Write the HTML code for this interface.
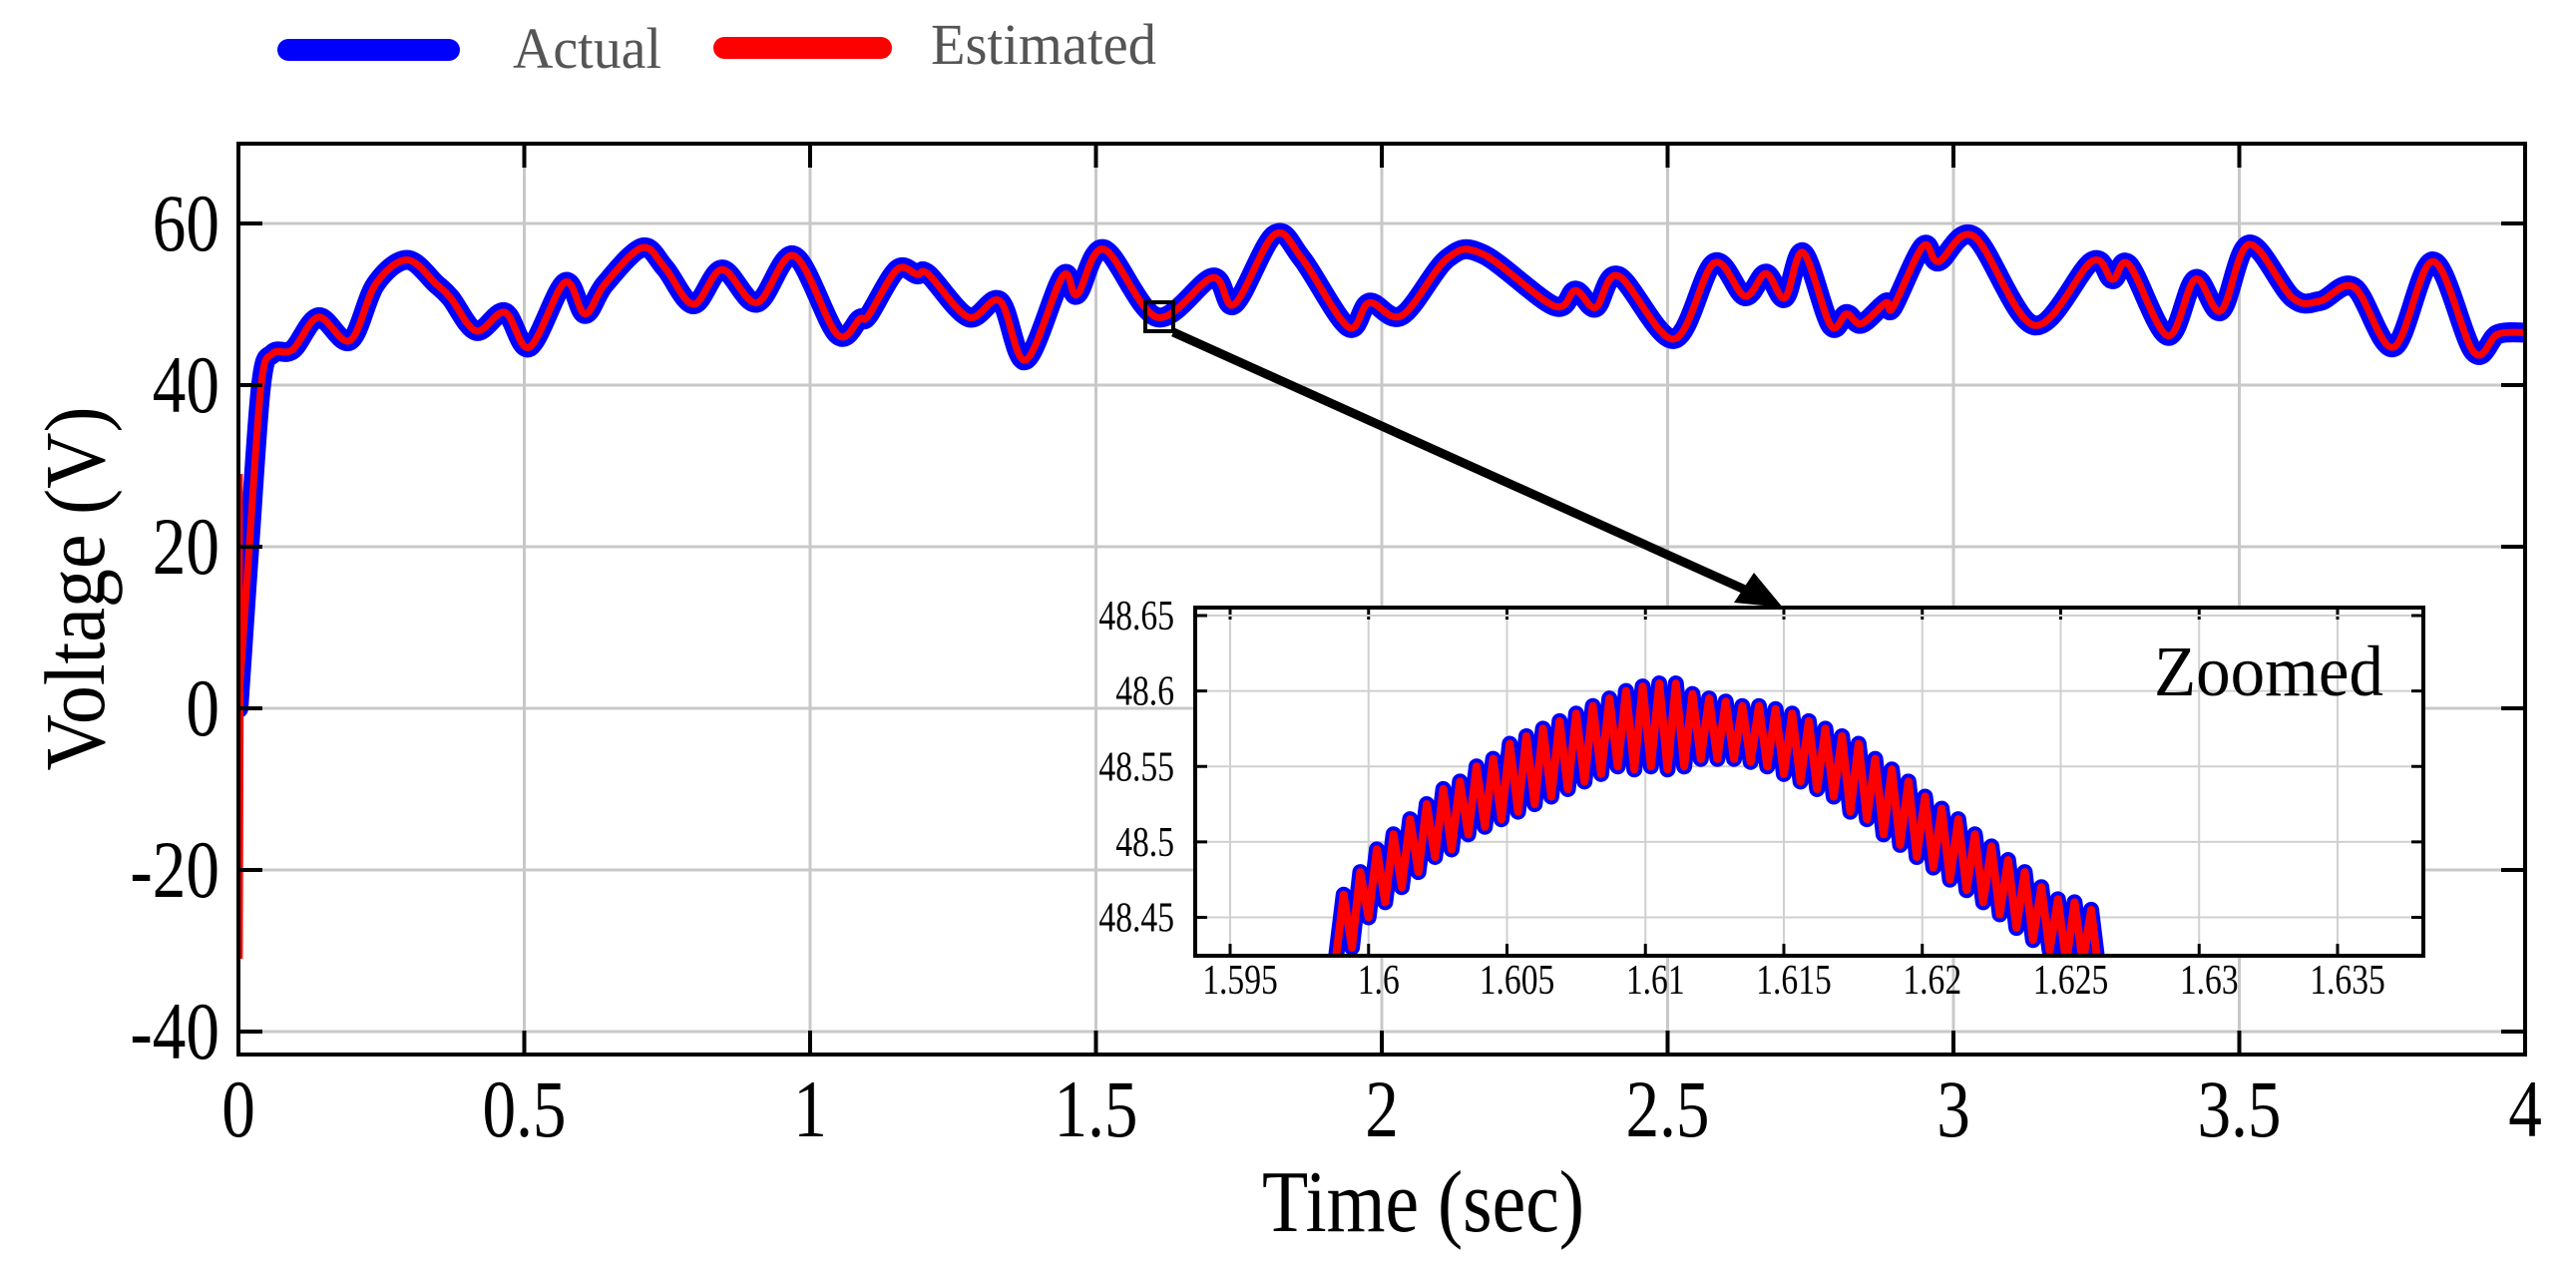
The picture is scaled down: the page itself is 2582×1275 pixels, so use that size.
<!DOCTYPE html>
<html><head><meta charset="utf-8"><style>
html,body{margin:0;padding:0;background:#fff;}
svg{display:block;font-family:"Liberation Serif",serif;}
</style></head><body>
<svg id="chart" width="2582" height="1275" viewBox="0 0 2582 1275" xmlns="http://www.w3.org/2000/svg">
<defs>
<clipPath id="mainClip"><rect x="239" y="144" width="2292" height="913"/></clipPath>
<clipPath id="insetClip"><rect x="1198" y="609" width="1231" height="349"/></clipPath>
</defs>
<g>
<line x1="289" y1="50" x2="450" y2="50" stroke="#0000ff" stroke-width="22" stroke-linecap="round"/>
<text x="514" y="68" font-size="58" fill="#555" textLength="149" lengthAdjust="spacingAndGlyphs">Actual</text>
<line x1="726" y1="48" x2="883" y2="48" stroke="#ff0000" stroke-width="22" stroke-linecap="round"/>
<text x="933" y="64" font-size="58" fill="#555" textLength="226" lengthAdjust="spacingAndGlyphs">Estimated</text>
</g>
<g id="mainGrid"></g>
<g id="mainSeries" clip-path="url(#mainClip)"></g>
<g id="mainAxes"></g>
<text transform="translate(104,590) rotate(-90)" text-anchor="middle" font-size="86" textLength="365" lengthAdjust="spacingAndGlyphs">Voltage (V)</text>
<text x="1265" y="1234" font-size="88" textLength="323" lengthAdjust="spacingAndGlyphs">Time (sec)</text>
<rect x="1148" y="303" width="28" height="29" fill="none" stroke="#000" stroke-width="4"/>
<line x1="1176" y1="333" x2="1760" y2="596" stroke="#000" stroke-width="9"/>
<polygon points="1787,609 1738,604 1758,574" fill="#000"/>
<g id="inset"></g>
</svg>
<script>
// ---- main chart data ----
const actualT = [0,0.019,0.04,0.06,0.095,0.14,0.195,0.24,0.295,0.346,0.371,0.416,0.466,0.509,0.571,0.606,0.641,0.706,0.746,0.796,0.846,0.907,0.972,1.047,1.087,1.102,1.152,1.187,1.207,1.277,1.332,1.377,1.442,1.467,1.514,1.607,1.704,1.742,1.812,1.86,1.941,1.978,2.035,2.115,2.177,2.301,2.339,2.374,2.414,2.511,2.581,2.635,2.672,2.705,2.737,2.785,2.813,2.839,2.882,2.894,2.947,2.974,3.036,3.141,3.242,3.278,3.307,3.375,3.423,3.468,3.517,3.593,3.641,3.701,3.77,3.839,3.91,3.952,4.0];
const actualV = [0,20,40.2,43.9,44.4,48.4,45.5,52.5,55.5,52.5,50.8,46.7,49.0,44.7,52.7,48.8,52.5,57.0,54.5,50.0,54.3,50.2,56.0,46.3,48.2,48.6,54.3,53.7,53.7,48.4,50.4,43.1,53.5,51.2,56.8,48.4,53.3,50.0,58.6,55.7,47.2,50.2,48.6,55.7,56.2,49.8,51.7,49.6,53.5,45.7,55.1,51.0,53.8,50.8,56.4,47.4,48.8,47.6,50.2,49.6,57.2,55.3,58.4,47.4,55.3,53.1,54.9,46.1,53.1,49.2,57.4,50.8,50.4,52.1,44.7,55.3,44.1,46.3,46.5];
const spikeT = [0.0015,0.0015,0.003];
const spikeV = [29,-31,2];
const xTicks = [0,0.5,1,1.5,2,2.5,3,3.5,4];
const xTickLabels = ["0","0.5","1","1.5","2","2.5","3","3.5","4"];
const yTicks = [-40,-20,0,20,40,60];
const yTickLabels = ["-40","-20","0","20","40","60"];
// ---- inset data ----
const insetT = [1.5988,1.5991,1.5994,1.5997,1.6000,1.6003,1.6006,1.6009,1.6012,1.6015,1.6018,1.6021,1.6024,1.6027,1.6030,1.6033,1.6036,1.6039,1.6042,1.6045,1.6048,1.6051,1.6054,1.6057,1.6060,1.6063,1.6066,1.6069,1.6072,1.6075,1.6078,1.6081,1.6084,1.6087,1.6090,1.6093,1.6096,1.6099,1.6102,1.6105,1.6108,1.6111,1.6114,1.6117,1.6120,1.6123,1.6126,1.6129,1.6132,1.6135,1.6138,1.6141,1.6144,1.6147,1.6150,1.6153,1.6156,1.6159,1.6162,1.6165,1.6168,1.6171,1.6174,1.6177,1.6180,1.6183,1.6186,1.6189,1.6192,1.6195,1.6198,1.6201,1.6204,1.6207,1.6210,1.6213,1.6216,1.6219,1.6222,1.6225,1.6228,1.6231,1.6234,1.6237,1.6240,1.6243,1.6246,1.6249,1.6252,1.6255,1.6258,1.6261,1.6264];
const insetV = [48.42,48.465,48.43,48.48,48.45,48.495,48.46,48.505,48.47,48.515,48.48,48.525,48.49,48.535,48.495,48.54,48.505,48.55,48.51,48.555,48.515,48.565,48.52,48.57,48.525,48.575,48.53,48.58,48.535,48.585,48.54,48.59,48.545,48.595,48.55,48.6,48.548,48.603,48.55,48.605,48.548,48.605,48.55,48.598,48.555,48.595,48.555,48.593,48.555,48.59,48.553,48.59,48.55,48.588,48.545,48.585,48.54,48.58,48.535,48.575,48.53,48.57,48.52,48.565,48.515,48.555,48.505,48.548,48.498,48.54,48.49,48.53,48.483,48.522,48.475,48.515,48.468,48.505,48.46,48.497,48.452,48.488,48.443,48.48,48.435,48.47,48.428,48.462,48.42,48.46,48.42,48.455,48.41];
const insetXTicks = [1.595,1.6,1.605,1.61,1.615,1.62,1.625,1.63,1.635];
const insetXLabels = ["1.595","1.6","1.605","1.61","1.615","1.62","1.625","1.63","1.635"];
const insetYTicks = [48.45,48.5,48.55,48.6,48.65];
const insetYLabels = ["48.45","48.5","48.55","48.6","48.65"];

const NS = "http://www.w3.org/2000/svg";
function mk(tag, attrs, parent){const e=document.createElementNS(NS,tag);for(const k in attrs)e.setAttribute(k,attrs[k]);parent.appendChild(e);return e;}

const L=239,R=2531,T=144,B=1057;
const xS = t => L + t*(R-L)/4;
const yS = v => 710 - v*8.1;

const grid=document.getElementById('mainGrid');
const axes=document.getElementById('mainAxes');
const series=document.getElementById('mainSeries');
xTicks.forEach((t,i)=>{
  const g=mk('line',{x1:xS(t),y1:T,x2:xS(t),y2:B,stroke:'#c8c8c8','stroke-width':3},grid);
  
  
  const tb=mk('line',{x1:xS(t),y1:B,x2:xS(t),y2:B-24,stroke:'#000','stroke-width':4},axes);
  
  
  const tt=mk('line',{x1:xS(t),y1:T,x2:xS(t),y2:T+24,stroke:'#000','stroke-width':4},axes);
  
  
  const lb=mk('text',{transform:'translate('+xS(t)+',1139) scale(0.82,1)','font-size':82,'text-anchor':'middle'},axes);
  lb.textContent=xTickLabels[i];
  
  
});
yTicks.forEach((v,i)=>{
  const g=mk('line',{x1:L,y1:yS(v),x2:R,y2:yS(v),stroke:'#c8c8c8','stroke-width':3},grid);
  
  
  const tl=mk('line',{x1:L,y1:yS(v),x2:L+24,y2:yS(v),stroke:'#000','stroke-width':4},axes);
  
  
  const tr=mk('line',{x1:R,y1:yS(v),x2:R-24,y2:yS(v),stroke:'#000','stroke-width':4},axes);
  
  
  const lb=mk('text',{transform:'translate(220,'+(yS(v)+27)+') scale(0.82,1)','font-size':82,'text-anchor':'end'},axes);
  lb.textContent=yTickLabels[i];
  
  
});
const frame=mk('rect',{x:L,y:T,width:R-L,height:B-T,fill:'none',stroke:'#000','stroke-width':4},axes);



function smoothPath(ts,vs,xf,yf){
  const p=ts.map((t,i)=>[xf(t),yf(vs[i])]);
  let d='M'+p[0][0]+','+p[0][1];
  for(let i=0;i<p.length-1;i++){
    const p0=p[Math.max(0,i-1)],p1=p[i],p2=p[i+1],p3=p[Math.min(p.length-1,i+2)];
    const c1=[p1[0]+(p2[0]-p0[0])/6,p1[1]+(p2[1]-p0[1])/6];
    const c2=[p2[0]-(p3[0]-p1[0])/6,p2[1]-(p3[1]-p1[1])/6];
    d+=' C'+c1[0]+','+c1[1]+' '+c2[0]+','+c2[1]+' '+p2[0]+','+p2[1];
  }
  return d;
}
const aPath=mk('path',{d:smoothPath(actualT,actualV,xS,yS),fill:'none',stroke:'#0000ff','stroke-width':20,'stroke-linejoin':'round','stroke-linecap':'round'},series);


const ePath=mk('path',{d:smoothPath(actualT,actualV,xS,yS),fill:'none',stroke:'#ff0000','stroke-width':7,'stroke-linejoin':'round','stroke-linecap':'round'},series);


const sp=mk('polyline',{points:spikeT.map((t,i)=>xS(t)+','+yS(spikeV[i])).join(' '),fill:'none',stroke:'#ff0000','stroke-width':7},series);



const iL=1198,iR=2429,iT=609,iB=958;
const ixS = t => 1233 + (t-1.595)*(2343-1233)/0.04;
const iyS = v => 919.5 - (v-48.45)*(919.5-617)/0.2;
const inset=document.getElementById('inset');
const bg=mk('rect',{x:iL,y:iT,width:iR-iL,height:iB-iT,fill:'#fff'},inset);


insetXTicks.forEach((t,i)=>{
  const g=mk('line',{x1:ixS(t),y1:iT,x2:ixS(t),y2:iB,stroke:'#d0d0d0','stroke-width':2},inset);
  
  
  const tk=mk('line',{x1:ixS(t),y1:iB,x2:ixS(t),y2:iB-12,stroke:'#000','stroke-width':3},inset);
  
  
  const tk2=mk('line',{x1:ixS(t),y1:iT,x2:ixS(t),y2:iT+12,stroke:'#000','stroke-width':3},inset);
  
  
  const lb=mk('text',{transform:'translate('+(ixS(t)+10)+',996) scale(0.8,1)','font-size':42,'text-anchor':'middle'},inset);
  lb.textContent=insetXLabels[i];
  
  
});
insetYTicks.forEach((v,i)=>{
  const g=mk('line',{x1:iL,y1:iyS(v),x2:iR,y2:iyS(v),stroke:'#d0d0d0','stroke-width':2},inset);
  
  
  const tk=mk('line',{x1:iL,y1:iyS(v),x2:iL+12,y2:iyS(v),stroke:'#000','stroke-width':3},inset);
  
  
  const tk2=mk('line',{x1:iR,y1:iyS(v),x2:iR-12,y2:iyS(v),stroke:'#000','stroke-width':3},inset);
  
  
  const lb=mk('text',{transform:'translate(1177,'+(iyS(v)+14)+') scale(0.8,1)','font-size':42,'text-anchor':'end'},inset);
  lb.textContent=insetYLabels[i];
  
  
});
const ig=mk('g',{'clip-path':'url(#insetClip)'},inset);
const pts=insetT.map((t,i)=>ixS(t)+','+iyS(insetV[i])).join(' ');
const ia=mk('polyline',{points:pts,fill:'none',stroke:'#0000ff','stroke-width':16,'stroke-linejoin':'round','stroke-linecap':'round'},ig);


const ie=mk('polyline',{points:pts,fill:'none',stroke:'#ff0000','stroke-width':8,'stroke-linejoin':'round','stroke-linecap':'round'},ig);


const iframe=mk('rect',{x:iL,y:iT,width:iR-iL,height:iB-iT,fill:'none',stroke:'#000','stroke-width':4},inset);


const zt=mk('text',{x:2159,y:697,'font-size':72,textLength:230,lengthAdjust:'spacingAndGlyphs'},inset);
zt.textContent='Zoomed';


</script>
</body></html>
